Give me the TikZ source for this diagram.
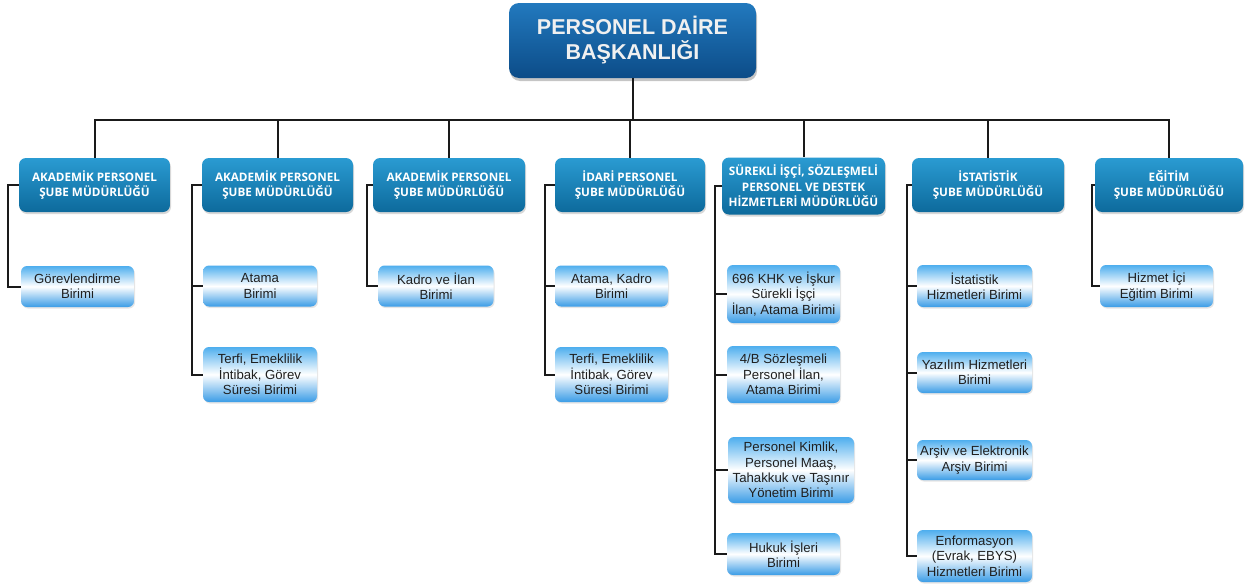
\documentclass[tikz,border=0pt]{standalone}
\usepackage{fontspec}
\setmainfont{Liberation Sans}
\newfontfamily\mgrfont{Open Sans}
\usetikzlibrary{shadows}
\definecolor{topA}{HTML}{2279BE}
\definecolor{topB}{HTML}{0C4C88}
\definecolor{mgrA}{HTML}{2A9BD2}
\definecolor{mgrB}{HTML}{0D6A9C}
\definecolor{unitA}{HTML}{4EAEEE}
\definecolor{unitB}{HTML}{3A9CE6}
\definecolor{linec}{HTML}{1A1A1A}
\tikzset{
  topbox/.style={rounded corners=10pt, top color=topA, bottom color=topB, text=white!94!black,
    font=\fontsize{21.5}{25}\selectfont\bfseries, align=center, inner sep=0pt,
    drop shadow={opacity=0.45, shadow xshift=1pt, shadow yshift=-3pt}},
  mgr/.style={rounded corners=7pt, top color=mgrA, bottom color=mgrB, text=white,
    font=\mgrfont\bfseries\fontsize{11.7}{15.5}\selectfont, align=center, inner sep=0pt,
    minimum height=54pt,
    drop shadow={opacity=0.3, shadow xshift=1pt, shadow yshift=-2pt}},
  unit/.style={rounded corners=6pt, top color=unitA, bottom color=unitB, middle color=white,
    text=black!88, font=\fontsize{13.2}{15.3}\selectfont, align=center, inner sep=0pt,
    drop shadow={opacity=0.2, shadow xshift=1pt, shadow yshift=-1.5pt}},
  conn/.style={draw=linec, line width=2pt}
}
\begin{document}
\begin{tikzpicture}[x=1pt, y=-1pt]
\useasboundingbox (0,0) rectangle (1248,584);
\fill[white] (0,0) rectangle (1248,584);

% top
\node[topbox, minimum width=247pt, minimum height=75pt] (top) at (632.5,40.5) {PERSONEL DAİRE\\BAŞKANLIĞI};

% managers
\node[mgr, minimum width=151pt] (M1) at (94.5,185) {AKADEMİK PERSONEL\\ŞUBE MÜDÜRLÜĞÜ};
\node[mgr, minimum width=151pt] (M2) at (277.5,185) {AKADEMİK PERSONEL\\ŞUBE MÜDÜRLÜĞÜ};
\node[mgr, minimum width=152pt] (M3) at (449,185) {AKADEMİK PERSONEL\\ŞUBE MÜDÜRLÜĞÜ};
\node[mgr, minimum width=150pt] (M4) at (630,185) {İDARİ PERSONEL\\ŞUBE MÜDÜRLÜĞÜ};
\node[mgr, minimum width=163pt, minimum height=57pt] (M5) at (803.5,186) {SÜREKLİ İŞÇİ, SÖZLEŞMELİ\\PERSONEL VE DESTEK\\HİZMETLERİ MÜDÜRLÜĞÜ};
\node[mgr, minimum width=152pt] (M6) at (988,185) {İSTATİSTİK\\ŞUBE MÜDÜRLÜĞÜ};
\node[mgr, minimum width=148pt] (M7) at (1169,185) {EĞİTİM\\ŞUBE MÜDÜRLÜĞÜ};

% units
\node[unit, minimum width=113pt, minimum height=41pt] (C11) at (77.5,286.5) {Görevlendirme\\Birimi};
\node[unit, minimum width=114pt, minimum height=41pt] (C21) at (260,286) {Atama\\Birimi};
\node[unit, minimum width=114pt, minimum height=55pt] (C22) at (260,374.5) {Terfi, Emeklilik\\İntibak, Görev\\Süresi Birimi};
\node[unit, minimum width=115pt, minimum height=41pt] (C31) at (436,286) {Kadro ve İlan\\Birimi};
\node[unit, minimum width=113pt, minimum height=41pt] (C41) at (611.5,286) {Atama, Kadro\\Birimi};
\node[unit, minimum width=113pt, minimum height=55pt] (C42) at (611.5,374.5) {Terfi, Emeklilik\\İntibak, Görev\\Süresi Birimi};
\node[unit, minimum width=113pt, minimum height=58pt] (C51) at (783.5,294) {696 KHK ve İşkur\\Sürekli İşçi\\İlan, Atama Birimi};
\node[unit, minimum width=113pt, minimum height=57pt] (C52) at (783.5,374.5) {4/B Sözleşmeli\\Personel İlan,\\Atama Birimi};
\node[unit, minimum width=126pt, minimum height=66pt] (C53) at (791,470) {Personel Kimlik,\\Personel Maaş,\\Tahakkuk ve Taşınır\\Yönetim Birimi};
\node[unit, minimum width=113pt, minimum height=42pt] (C54) at (783.5,554) {Hukuk İşleri\\Birimi};
\node[unit, minimum width=115pt, minimum height=42pt] (C61) at (974.5,286) {İstatistik\\Hizmetleri Birimi};
\node[unit, minimum width=115pt, minimum height=41pt] (C62) at (974.5,372.5) {Yazılım Hizmetleri\\Birimi};
\node[unit, minimum width=115pt, minimum height=40pt] (C63) at (974.5,460) {Arşiv ve Elektronik\\Arşiv Birimi};
\node[unit, minimum width=115pt, minimum height=52pt] (C64) at (974.5,556) {Enformasyon\\(Evrak, EBYS)\\Hizmetleri Birimi};
\node[unit, minimum width=113pt, minimum height=42pt] (C71) at (1156.5,286) {Hizmet İçi\\Eğitim Birimi};

% bus
\coordinate (bus) at (0,120);
\draw[conn] (top.south) -- (top.south |- bus);
\draw[conn, line cap=rect] (M1.north |- bus) -- (M7.north |- bus);
\foreach \m in {M1,M2,M3,M4,M5,M6,M7}
  \draw[conn] (\m.north |- bus) -- (\m.north);

% spines
\coordinate (s1) at (8,0);
\coordinate (s2) at (192,0);
\coordinate (s3) at (367,0);
\coordinate (s4) at (545,0);
\coordinate (s5) at (715,0);
\coordinate (s6) at (907,0);
\coordinate (s7) at (1092,0);

\draw[conn] (M1.west) -- (M1.west -| s1) |- (C11.west);
\draw[conn] (M2.west) -- (M2.west -| s2) |- (C22.west);
\draw[conn] (s2 |- C21.west) -- (C21.west);
\draw[conn] (M3.west) -- (M3.west -| s3) |- (C31.west);
\draw[conn] (M4.west) -- (M4.west -| s4) |- (C42.west);
\draw[conn] (s4 |- C41.west) -- (C41.west);
\draw[conn] (M5.west) -- (M5.west -| s5) |- (C54.west);
\draw[conn] (s5 |- C51.west) -- (C51.west);
\draw[conn] (s5 |- C52.west) -- (C52.west);
\draw[conn] (s5 |- C53.west) -- (C53.west);
\draw[conn] (M6.west) -- (M6.west -| s6) |- (C64.west);
\draw[conn] (s6 |- C61.west) -- (C61.west);
\draw[conn] (s6 |- C62.west) -- (C62.west);
\draw[conn] (s6 |- C63.west) -- (C63.west);
\draw[conn] (M7.west) -- (M7.west -| s7) |- (C71.west);
\end{tikzpicture}
\end{document}
